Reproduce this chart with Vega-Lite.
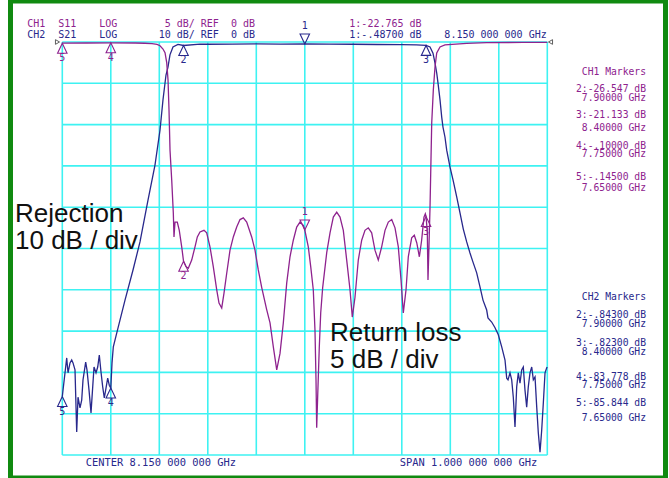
{
  "$schema": "https://vega.github.io/schema/vega-lite/v6.json",
  "width": 655,
  "height": 477,
  "autosize": {"type": "none"},
  "padding": {"left": 10.5, "top": 1, "right": 3.5, "bottom": 0},
  "background": "white",
  "config": {"view": {"stroke": "#108a10", "strokeWidth": 5}},
  "datasets": {
    "vgrid": [{"f": 7.65}, {"f": 7.75}, {"f": 7.85}, {"f": 7.95}, {"f": 8.05}, {"f": 8.15}, {"f": 8.25}, {"f": 8.35}, {"f": 8.45}, {"f": 8.55}, {"f": 8.65}],
    "hgrid": [{"db": 0}, {"db": -10}, {"db": -20}, {"db": -30}, {"db": -40}, {"db": -50}, {"db": -60}, {"db": -70}, {"db": -80}, {"db": -90}, {"db": -100}],
    "refmarks": [{"f": 7.6401, "s": "L"}, {"f": 8.6566, "s": "R"}],
    "s21": [
      {"f": 7.65, "db": -85.84}, {"f": 7.6591, "db": -76.5}, {"f": 7.6618, "db": -80.1}, {"f": 7.6659, "db": -77.7},
      {"f": 7.6694, "db": -77.0}, {"f": 7.6721, "db": -77.7}, {"f": 7.6762, "db": -79.4}, {"f": 7.6797, "db": -94.4},
      {"f": 7.6824, "db": -86.0}, {"f": 7.6865, "db": -88.6}, {"f": 7.69, "db": -86.7}, {"f": 7.6927, "db": -81.8},
      {"f": 7.6982, "db": -77.5}, {"f": 7.7009, "db": -79.4}, {"f": 7.7051, "db": -84.3}, {"f": 7.7092, "db": -89.8},
      {"f": 7.7127, "db": -83.5}, {"f": 7.7154, "db": -78.7}, {"f": 7.7195, "db": -80.1}, {"f": 7.723, "db": -78.7},
      {"f": 7.7263, "db": -75.8}, {"f": 7.7298, "db": -79.9}, {"f": 7.7333, "db": -83.5}, {"f": 7.7366, "db": -86.2},
      {"f": 7.7401, "db": -83.8}, {"f": 7.7436, "db": -81.4}, {"f": 7.7469, "db": -83.1}, {"f": 7.75, "db": -83.78},
      {"f": 7.7525, "db": -77.7}, {"f": 7.7552, "db": -73.8}, {"f": 7.7622, "db": -70.5}, {"f": 7.7793, "db": -62.5},
      {"f": 7.7958, "db": -55.2}, {"f": 7.8102, "db": -48.4}, {"f": 7.8267, "db": -38.3}, {"f": 7.8411, "db": -29.8},
      {"f": 7.8515, "db": -21.3}, {"f": 7.8576, "db": -14.0}, {"f": 7.8638, "db": -8.0}, {"f": 7.8679, "db": -6.1},
      {"f": 7.872, "db": -3.1}, {"f": 7.8782, "db": -1.2}, {"f": 7.8885, "db": -0.6}, {"f": 7.9, "db": -0.843},
      {"f": 7.934, "db": -0.5}, {"f": 7.95, "db": -0.55}, {"f": 8.0, "db": -0.5}, {"f": 8.05, "db": -0.45},
      {"f": 8.1, "db": -0.5}, {"f": 8.15, "db": -0.487}, {"f": 8.2, "db": -0.5}, {"f": 8.25, "db": -0.55},
      {"f": 8.3, "db": -0.6}, {"f": 8.35, "db": -0.65}, {"f": 8.38, "db": -0.7}, {"f": 8.4, "db": -0.823},
      {"f": 8.4082, "db": -1.2}, {"f": 8.4143, "db": -2.7}, {"f": 8.4185, "db": -5.1}, {"f": 8.422, "db": -7.5},
      {"f": 8.4246, "db": -9.9}, {"f": 8.4288, "db": -14.0}, {"f": 8.4323, "db": -18.2}, {"f": 8.4349, "db": -20.6},
      {"f": 8.439, "db": -23.0}, {"f": 8.4426, "db": -26.2}, {"f": 8.4494, "db": -30.3}, {"f": 8.4556, "db": -33.4},
      {"f": 8.4632, "db": -37.5}, {"f": 8.47, "db": -41.4}, {"f": 8.4768, "db": -45.3}, {"f": 8.4838, "db": -48.4},
      {"f": 8.4906, "db": -51.1}, {"f": 8.4968, "db": -53.3}, {"f": 8.5044, "db": -55.9}, {"f": 8.5112, "db": -59.3},
      {"f": 8.5174, "db": -62.5}, {"f": 8.525, "db": -64.9}, {"f": 8.5277, "db": -66.8}, {"f": 8.5353, "db": -67.8},
      {"f": 8.5422, "db": -69.2}, {"f": 8.549, "db": -70.9}, {"f": 8.556, "db": -73.8}, {"f": 8.5628, "db": -77.0},
      {"f": 8.5663, "db": -81.4}, {"f": 8.569, "db": -81.8}, {"f": 8.5731, "db": -80.1}, {"f": 8.5766, "db": -81.8},
      {"f": 8.5799, "db": -86.0}, {"f": 8.5834, "db": -93.2}, {"f": 8.5869, "db": -83.5}, {"f": 8.5902, "db": -80.1},
      {"f": 8.5937, "db": -82.6}, {"f": 8.5972, "db": -79.4}, {"f": 8.6005, "db": -78.7}, {"f": 8.604, "db": -84.3},
      {"f": 8.6075, "db": -88.4}, {"f": 8.6108, "db": -83.5}, {"f": 8.6143, "db": -80.1}, {"f": 8.6179, "db": -78.7},
      {"f": 8.6212, "db": -81.8}, {"f": 8.6247, "db": -81.1}, {"f": 8.6282, "db": -88.4}, {"f": 8.6315, "db": -94.7},
      {"f": 8.635, "db": -99.3}, {"f": 8.6385, "db": -93.9}, {"f": 8.6418, "db": -87.4}, {"f": 8.6453, "db": -80.1},
      {"f": 8.6488, "db": -78.9}, {"f": 8.65, "db": -78.7}
    ],
    "s11": [
      {"f": 7.65, "db": -0.145}, {"f": 7.7, "db": -0.12}, {"f": 7.75, "db": -0.1}, {"f": 7.8, "db": -0.12},
      {"f": 7.82, "db": -0.15}, {"f": 7.835, "db": -0.2}, {"f": 7.8453, "db": -0.3}, {"f": 7.8515, "db": -0.45},
      {"f": 7.8576, "db": -0.85}, {"f": 7.8618, "db": -1.3}, {"f": 7.8653, "db": -2.5}, {"f": 7.868, "db": -4.6},
      {"f": 7.87, "db": -8.2}, {"f": 7.8721, "db": -13.1}, {"f": 7.8756, "db": -16.7}, {"f": 7.8789, "db": -20.7},
      {"f": 7.8803, "db": -23.6}, {"f": 7.8824, "db": -21.8}, {"f": 7.8871, "db": -21.8}, {"f": 7.8912, "db": -22.8},
      {"f": 7.8962, "db": -24.8}, {"f": 7.9, "db": -26.547}, {"f": 7.9051, "db": -27.2}, {"f": 7.9098, "db": -27.4},
      {"f": 7.9168, "db": -26.4}, {"f": 7.9236, "db": -24.8}, {"f": 7.9284, "db": -23.6}, {"f": 7.9339, "db": -23.0},
      {"f": 7.9422, "db": -22.8}, {"f": 7.9477, "db": -23.1}, {"f": 7.9545, "db": -24.8}, {"f": 7.9613, "db": -27.2},
      {"f": 7.9684, "db": -30.0}, {"f": 7.9731, "db": -31.6}, {"f": 7.9787, "db": -32.2}, {"f": 7.9834, "db": -30.4},
      {"f": 7.989, "db": -28.0}, {"f": 7.9958, "db": -25.2}, {"f": 8.0026, "db": -23.6}, {"f": 8.0096, "db": -22.4},
      {"f": 8.0164, "db": -21.5}, {"f": 8.0232, "db": -21.3}, {"f": 8.0302, "db": -21.8}, {"f": 8.0405, "db": -23.6},
      {"f": 8.0473, "db": -25.2}, {"f": 8.0541, "db": -27.6}, {"f": 8.0611, "db": -29.7}, {"f": 8.0714, "db": -32.4},
      {"f": 8.0783, "db": -34.0}, {"f": 8.0851, "db": -36.9}, {"f": 8.0921, "db": -39.7}, {"f": 8.0989, "db": -37.7},
      {"f": 8.1057, "db": -34.0}, {"f": 8.1127, "db": -29.2}, {"f": 8.1195, "db": -26.0}, {"f": 8.1263, "db": -24.0},
      {"f": 8.1333, "db": -22.4}, {"f": 8.1401, "db": -21.8}, {"f": 8.1469, "db": -22.2}, {"f": 8.15, "db": -22.765},
      {"f": 8.1572, "db": -24.8}, {"f": 8.1622, "db": -27.2}, {"f": 8.1675, "db": -30.0}, {"f": 8.171, "db": -34.9},
      {"f": 8.1731, "db": -40.9}, {"f": 8.1745, "db": -46.7}, {"f": 8.1765, "db": -43.0}, {"f": 8.1799, "db": -36.9},
      {"f": 8.1828, "db": -32.8}, {"f": 8.1869, "db": -29.7}, {"f": 8.1952, "db": -25.5}, {"f": 8.202, "db": -23.1},
      {"f": 8.2088, "db": -21.2}, {"f": 8.2158, "db": -20.6}, {"f": 8.2226, "db": -21.2}, {"f": 8.2294, "db": -22.8},
      {"f": 8.2364, "db": -26.4}, {"f": 8.2432, "db": -30.0}, {"f": 8.2479, "db": -33.3}, {"f": 8.2535, "db": -30.9},
      {"f": 8.2603, "db": -26.4}, {"f": 8.2673, "db": -24.0}, {"f": 8.2741, "db": -22.8}, {"f": 8.2809, "db": -22.5},
      {"f": 8.2879, "db": -23.1}, {"f": 8.2947, "db": -25.2}, {"f": 8.3015, "db": -26.4}, {"f": 8.3085, "db": -24.8},
      {"f": 8.3154, "db": -22.8}, {"f": 8.3222, "db": -21.8}, {"f": 8.3292, "db": -21.5}, {"f": 8.336, "db": -22.5},
      {"f": 8.3428, "db": -24.8}, {"f": 8.3484, "db": -28.8}, {"f": 8.3531, "db": -32.8}, {"f": 8.3587, "db": -30.0},
      {"f": 8.3634, "db": -26.0}, {"f": 8.3704, "db": -23.7}, {"f": 8.3758, "db": -23.4}, {"f": 8.3808, "db": -24.3},
      {"f": 8.3862, "db": -26.0}, {"f": 8.3909, "db": -24.0}, {"f": 8.3957, "db": -21.2}, {"f": 8.3985, "db": -20.8},
      {"f": 8.4, "db": -21.133}, {"f": 8.4026, "db": -23.0}, {"f": 8.404, "db": -28.8}, {"f": 8.406, "db": -24.8},
      {"f": 8.4082, "db": -20.0}, {"f": 8.4096, "db": -15.9}, {"f": 8.4117, "db": -9.8}, {"f": 8.415, "db": -5.8},
      {"f": 8.4185, "db": -3.0}, {"f": 8.422, "db": -1.33}, {"f": 8.4288, "db": -0.6}, {"f": 8.439, "db": -0.36},
      {"f": 8.4838, "db": -0.16}, {"f": 8.525, "db": -0.08}, {"f": 8.6, "db": -0.05}, {"f": 8.65, "db": -0.05}
    ],
    "m21up": [
      {"n": "2", "f": 7.9, "db": -0.843, "ch": "CH2"},
      {"n": "3", "f": 8.4, "db": -0.823, "ch": "CH2"},
      {"n": "4", "f": 7.75, "db": -83.778, "ch": "CH2"},
      {"n": "5", "f": 7.65, "db": -85.844, "ch": "CH2"}
    ],
    "m21down": [{"n": "1", "f": 8.15, "db": -0.487, "ch": "CH2"}],
    "m11up": [
      {"n": "2", "f": 7.9, "db": -26.547, "ch": "CH1"},
      {"n": "3", "f": 8.4, "db": -21.133, "ch": "CH1"},
      {"n": "4", "f": 7.75, "db": -0.1, "ch": "CH1"},
      {"n": "5", "f": 7.65, "db": -0.145, "ch": "CH1"}
    ],
    "m11down": [{"n": "1", "f": 8.15, "db": -22.765, "ch": "CH1"}],
    "hdrL": [
      {"t": "CH1", "f": 7.5778, "db": 4.237, "ch": "CH1"},
      {"t": "S11", "f": 7.6418, "db": 4.237, "ch": "CH1"},
      {"t": "LOG", "f": 7.7263, "db": 4.237, "ch": "CH1"},
      {"t": "1:-22.765 dB", "f": 8.2418, "db": 4.237, "ch": "CH1"},
      {"t": "CH2", "f": 7.5778, "db": 1.695, "ch": "CH2"},
      {"t": "S21", "f": 7.6418, "db": 1.695, "ch": "CH2"},
      {"t": "LOG", "f": 7.7263, "db": 1.695, "ch": "CH2"},
      {"t": "1:-.48700 dB", "f": 8.2418, "db": 1.695, "ch": "CH2"}
    ],
    "hdrR": [
      {"t": "5 dB/ REF\u00a0\u00a00 dB", "f": 8.0473, "db": 4.237, "ch": "CH1"},
      {"t": "10 dB/ REF\u00a0\u00a00 dB", "f": 8.0473, "db": 1.695, "ch": "CH2"},
      {"t": "8.150 000 000 GHz", "f": 8.6488, "db": 1.695, "ch": "CH2"}
    ],
    "side": [
      {"t": "CH1 Markers", "db": -7.19, "ch": "CH1"},
      {"t": "2:-26.547 dB", "db": -11.45, "ch": "CH1"},
      {"t": "7.90000 GHz", "db": -13.63, "ch": "CH1"},
      {"t": "3:-21.133 dB", "db": -17.68, "ch": "CH1"},
      {"t": "8.40000 GHz", "db": -20.9, "ch": "CH1"},
      {"t": "4:-.10000 dB", "db": -25.18, "ch": "CH1"},
      {"t": "7.75000 GHz", "db": -27.12, "ch": "CH1"},
      {"t": "5:-.14500 dB", "db": -32.76, "ch": "CH1"},
      {"t": "7.65000 GHz", "db": -35.28, "ch": "CH1"},
      {"t": "CH2 Markers", "db": -61.82, "ch": "CH2"},
      {"t": "2:-.84300 dB", "db": -66.1, "ch": "CH2"},
      {"t": "7.90000 GHz", "db": -68.35, "ch": "CH2"},
      {"t": "3:-.82300 dB", "db": -72.81, "ch": "CH2"},
      {"t": "8.40000 GHz", "db": -75.13, "ch": "CH2"},
      {"t": "4:-83.778 dB", "db": -81.19, "ch": "CH2"},
      {"t": "7.75000 GHz", "db": -83.05, "ch": "CH2"},
      {"t": "5:-85.844 dB", "db": -87.48, "ch": "CH2"},
      {"t": "7.65000 GHz", "db": -90.97, "ch": "CH2"}
    ],
    "botL": [{"t": "CENTER 8.150 000 000 GHz", "f": 7.6985, "db": -101.94, "ch": "CH2"}],
    "botR": [{"t": "SPAN 1.000 000 000 GHz", "f": 8.6294, "db": -101.94, "ch": "CH2"}],
    "notes": [
      {"t": "Rejection", "f": 7.5525, "db": -43.58},
      {"t": "10 dB / div", "f": 7.5525, "db": -50.12},
      {"t": "Return loss", "f": 8.202, "db": -72.4},
      {"t": "5 dB / div", "f": 8.202, "db": -78.93}
    ]
  },
  "layer": [
    {
      "data": {"name": "vgrid"},
      "mark": {"type": "rule", "color": "#3ef2f2", "strokeWidth": 1.6},
      "encoding": {
        "x": {"field": "f", "type": "quantitative", "scale": {"domain": [7.543196, 8.893711], "nice": false, "zero": false}, "axis": null},
        "y": {"datum": 0, "type": "quantitative", "scale": {"domain": [-105.569, 9.927], "nice": false, "zero": false}, "axis": null},
        "y2": {"datum": -100}
      }
    },
    {
      "data": {"name": "hgrid"},
      "mark": {"type": "rule", "color": "#3ef2f2", "strokeWidth": 1.6},
      "encoding": {
        "y": {"field": "db", "type": "quantitative", "scale": {"domain": [-105.569, 9.927], "nice": false, "zero": false}, "axis": null},
        "x": {"datum": 7.65, "type": "quantitative", "scale": {"domain": [7.543196, 8.893711], "nice": false, "zero": false}, "axis": null},
        "x2": {"datum": 8.65}
      }
    },
    {
      "mark": {"type": "rule", "color": "#1c1c1c", "strokeWidth": 1.6},
      "encoding": {
        "y": {"datum": 0, "type": "quantitative", "scale": {"domain": [-105.569, 9.927], "nice": false, "zero": false}, "axis": null},
        "x": {"datum": 7.6391, "type": "quantitative", "scale": {"domain": [7.543196, 8.893711], "nice": false, "zero": false}, "axis": null},
        "x2": {"datum": 8.6556}
      }
    },
    {
      "data": {"name": "refmarks"},
      "mark": {"type": "point", "filled": false, "color": "#1c1c1c", "size": 22, "strokeWidth": 1},
      "encoding": {
        "x": {"field": "f", "type": "quantitative", "scale": {"domain": [7.543196, 8.893711], "nice": false, "zero": false}, "axis": null},
        "y": {"datum": 0, "type": "quantitative", "scale": {"domain": [-105.569, 9.927], "nice": false, "zero": false}, "axis": null},
        "shape": {"field": "s", "type": "nominal", "scale": {"domain": ["L", "R"], "range": ["triangle-right", "triangle-left"]}, "legend": null}
      }
    },
    {
      "data": {"name": "s21"},
      "mark": {"type": "line", "strokeWidth": 1.3, "color": "#28288c"},
      "encoding": {
        "x": {"field": "f", "type": "quantitative", "scale": {"domain": [7.543196, 8.893711], "nice": false, "zero": false}, "axis": null},
        "y": {"field": "db", "type": "quantitative", "scale": {"domain": [-105.569, 9.927], "nice": false, "zero": false}, "axis": null}
      }
    },
    {
      "data": {"name": "s11"},
      "mark": {"type": "line", "strokeWidth": 1.3, "color": "#8e228e"},
      "encoding": {
        "x": {"field": "f", "type": "quantitative", "scale": {"domain": [7.543196, 8.893711], "nice": false, "zero": false}, "axis": null},
        "y": {"field": "db", "type": "quantitative", "scale": {"domain": [-52.7845, 4.9635], "nice": false, "zero": false}, "axis": null}
      }
    },
    {
      "data": {"name": "m21up"},
      "layer": [
        {"mark": {"type": "point", "filled": false, "size": 100, "strokeWidth": 1.1, "shape": "M0,0L-0.95,2L0.95,2Z", "opacity": 1}},
        {"mark": {"type": "text", "font": "DejaVu Sans Mono", "fontSize": 10, "dy": 15, "baseline": "middle"}, "encoding": {"text": {"field": "n"}}}
      ],
      "encoding": {
        "x": {"field": "f", "type": "quantitative", "scale": {"domain": [7.543196, 8.893711], "nice": false, "zero": false}, "axis": null},
        "y": {"field": "db", "type": "quantitative", "scale": {"domain": [-105.569, 9.927], "nice": false, "zero": false}, "axis": null},
        "color": {"field": "ch", "type": "nominal", "scale": {"domain": ["CH1", "CH2"], "range": ["#8e228e", "#28288c"]}, "legend": null}
      }
    },
    {
      "data": {"name": "m21down"},
      "layer": [
        {"mark": {"type": "point", "filled": false, "size": 100, "strokeWidth": 1.1, "shape": "M0,0L-0.95,-2L0.95,-2Z", "opacity": 1}},
        {"mark": {"type": "text", "font": "DejaVu Sans Mono", "fontSize": 10, "dy": -18, "baseline": "middle"}, "encoding": {"text": {"field": "n"}}}
      ],
      "encoding": {
        "x": {"field": "f", "type": "quantitative", "scale": {"domain": [7.543196, 8.893711], "nice": false, "zero": false}, "axis": null},
        "y": {"field": "db", "type": "quantitative", "scale": {"domain": [-105.569, 9.927], "nice": false, "zero": false}, "axis": null},
        "color": {"field": "ch", "type": "nominal", "scale": {"domain": ["CH1", "CH2"], "range": ["#8e228e", "#28288c"]}, "legend": null}
      }
    },
    {
      "data": {"name": "m11up"},
      "layer": [
        {"mark": {"type": "point", "filled": false, "size": 100, "strokeWidth": 1.1, "shape": "M0,0L-0.95,2L0.95,2Z", "opacity": 1}},
        {"mark": {"type": "text", "font": "DejaVu Sans Mono", "fontSize": 10, "dy": 15, "baseline": "middle"}, "encoding": {"text": {"field": "n"}}}
      ],
      "encoding": {
        "x": {"field": "f", "type": "quantitative", "scale": {"domain": [7.543196, 8.893711], "nice": false, "zero": false}, "axis": null},
        "y": {"field": "db", "type": "quantitative", "scale": {"domain": [-52.7845, 4.9635], "nice": false, "zero": false}, "axis": null},
        "color": {"field": "ch", "type": "nominal", "scale": {"domain": ["CH1", "CH2"], "range": ["#8e228e", "#28288c"]}, "legend": null}
      }
    },
    {
      "data": {"name": "m11down"},
      "layer": [
        {"mark": {"type": "point", "filled": false, "size": 100, "strokeWidth": 1.1, "shape": "M0,0L-0.95,-2L0.95,-2Z", "opacity": 1}},
        {"mark": {"type": "text", "font": "DejaVu Sans Mono", "fontSize": 10, "dy": -18, "baseline": "middle"}, "encoding": {"text": {"field": "n"}}}
      ],
      "encoding": {
        "x": {"field": "f", "type": "quantitative", "scale": {"domain": [7.543196, 8.893711], "nice": false, "zero": false}, "axis": null},
        "y": {"field": "db", "type": "quantitative", "scale": {"domain": [-52.7845, 4.9635], "nice": false, "zero": false}, "axis": null},
        "color": {"field": "ch", "type": "nominal", "scale": {"domain": ["CH1", "CH2"], "range": ["#8e228e", "#28288c"]}, "legend": null}
      }
    },
    {
      "mark": {"type": "rect", "filled": false, "color": "#28288c", "strokeWidth": 1},
      "encoding": {
        "x": {"datum": 7.5745, "type": "quantitative", "scale": {"domain": [7.543196, 8.893711], "nice": false, "zero": false}, "axis": null},
        "x2": {"datum": 7.6232},
        "y": {"datum": 2.736, "type": "quantitative", "scale": {"domain": [-105.569, 9.927], "nice": false, "zero": false}, "axis": null},
        "y2": {"datum": 0.654}
      }
    },
    {
      "data": {"name": "hdrL"},
      "mark": {"type": "text", "font": "DejaVu Sans Mono", "fontSize": 10, "align": "left", "baseline": "middle"},
      "encoding": {
        "x": {"field": "f", "type": "quantitative", "scale": {"domain": [7.543196, 8.893711], "nice": false, "zero": false}, "axis": null},
        "y": {"field": "db", "type": "quantitative", "scale": {"domain": [-105.569, 9.927], "nice": false, "zero": false}, "axis": null},
        "text": {"field": "t"},
        "color": {"field": "ch", "type": "nominal", "scale": {"domain": ["CH1", "CH2"], "range": ["#8e228e", "#28288c"]}, "legend": null}
      }
    },
    {
      "data": {"name": "hdrR"},
      "mark": {"type": "text", "font": "DejaVu Sans Mono", "fontSize": 10, "align": "right", "baseline": "middle"},
      "encoding": {
        "x": {"field": "f", "type": "quantitative", "scale": {"domain": [7.543196, 8.893711], "nice": false, "zero": false}, "axis": null},
        "y": {"field": "db", "type": "quantitative", "scale": {"domain": [-105.569, 9.927], "nice": false, "zero": false}, "axis": null},
        "text": {"field": "t"},
        "color": {"field": "ch", "type": "nominal", "scale": {"domain": ["CH1", "CH2"], "range": ["#8e228e", "#28288c"]}, "legend": null}
      }
    },
    {
      "data": {"name": "side"},
      "mark": {"type": "text", "font": "DejaVu Sans Mono", "fontSize": 9.7, "align": "right", "baseline": "middle"},
      "encoding": {
        "x": {"datum": 8.8535, "type": "quantitative", "scale": {"domain": [7.543196, 8.893711], "nice": false, "zero": false}, "axis": null},
        "y": {"field": "db", "type": "quantitative", "scale": {"domain": [-105.569, 9.927], "nice": false, "zero": false}, "axis": null},
        "text": {"field": "t"},
        "color": {"field": "ch", "type": "nominal", "scale": {"domain": ["CH1", "CH2"], "range": ["#8e228e", "#28288c"]}, "legend": null}
      }
    },
    {
      "data": {"name": "botL"},
      "mark": {"type": "text", "font": "DejaVu Sans Mono", "fontSize": 10.4, "align": "left", "baseline": "middle"},
      "encoding": {
        "x": {"field": "f", "type": "quantitative", "scale": {"domain": [7.543196, 8.893711], "nice": false, "zero": false}, "axis": null},
        "y": {"field": "db", "type": "quantitative", "scale": {"domain": [-105.569, 9.927], "nice": false, "zero": false}, "axis": null},
        "text": {"field": "t"},
        "color": {"field": "ch", "type": "nominal", "scale": {"domain": ["CH1", "CH2"], "range": ["#8e228e", "#28288c"]}, "legend": null}
      }
    },
    {
      "data": {"name": "botR"},
      "mark": {"type": "text", "font": "DejaVu Sans Mono", "fontSize": 10.4, "align": "right", "baseline": "middle"},
      "encoding": {
        "x": {"field": "f", "type": "quantitative", "scale": {"domain": [7.543196, 8.893711], "nice": false, "zero": false}, "axis": null},
        "y": {"field": "db", "type": "quantitative", "scale": {"domain": [-105.569, 9.927], "nice": false, "zero": false}, "axis": null},
        "text": {"field": "t"},
        "color": {"field": "ch", "type": "nominal", "scale": {"domain": ["CH1", "CH2"], "range": ["#8e228e", "#28288c"]}, "legend": null}
      }
    },
    {
      "data": {"name": "notes"},
      "mark": {"type": "text", "font": "Liberation Sans", "fontSize": 26, "align": "left", "baseline": "alphabetic", "color": "#111111"},
      "encoding": {
        "x": {"field": "f", "type": "quantitative", "scale": {"domain": [7.543196, 8.893711], "nice": false, "zero": false}, "axis": null},
        "y": {"field": "db", "type": "quantitative", "scale": {"domain": [-105.569, 9.927], "nice": false, "zero": false}, "axis": null},
        "text": {"field": "t"}
      }
    }
  ],
  "resolve": {"scale": {"y": "independent"}}
}
